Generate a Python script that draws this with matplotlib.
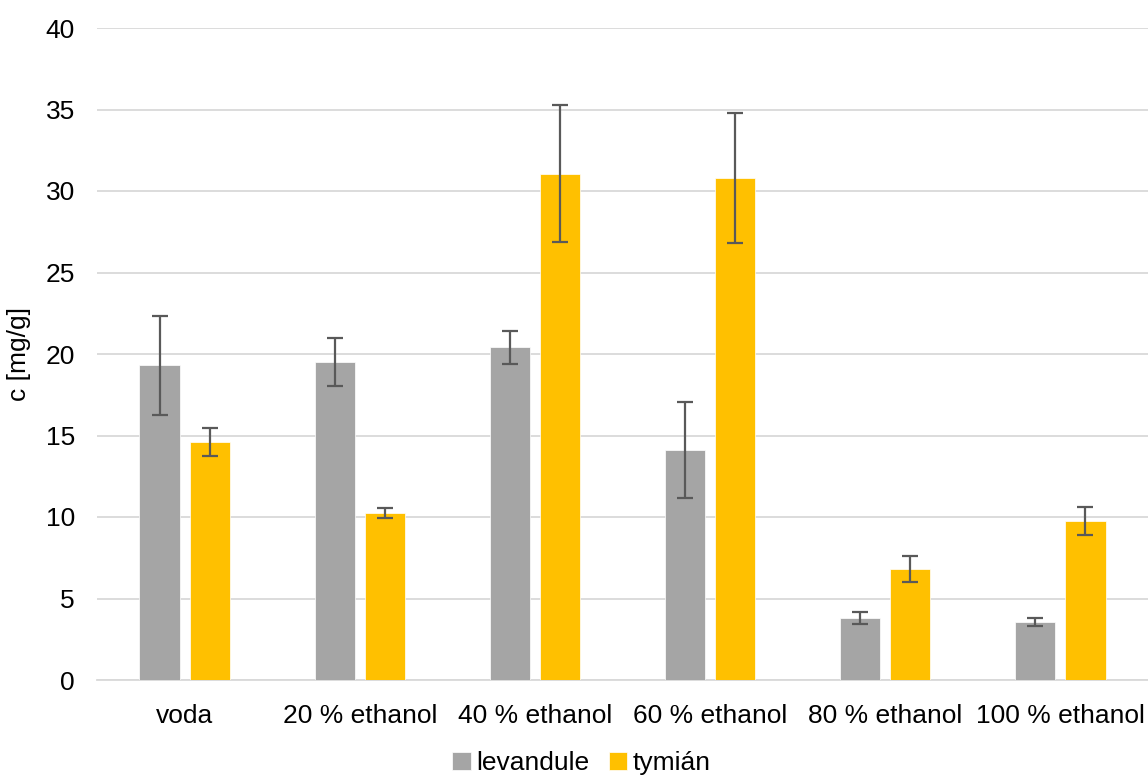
import numpy as np
import matplotlib.pyplot as plt

plt.rcParams['font.family'] = ['Liberation Sans', 'DejaVu Sans']

categories = ['voda', '20 % ethanol', '40 % ethanol', '60 % ethanol', '80 % ethanol', '100 % ethanol']
levandule = [19.3, 19.5, 20.4, 14.1, 3.8, 3.55]
levandule_err = [3.05, 1.47, 1.02, 2.95, 0.37, 0.25]
tymian = [14.6, 10.25, 31.05, 30.8, 6.8, 9.75]
tymian_err = [0.85, 0.3, 4.2, 4.0, 0.8, 0.86]

fig = plt.figure(figsize=(11.48, 7.79), dpi=100)
ax = fig.add_axes([97 / 1148, 1 - 680 / 779, 1 - 97 / 1148, (680 - 28) / 779])

x = np.arange(len(categories))
w = 0.229
off = 0.143
err_kw = dict(ecolor='#595959', elinewidth=1.6, capsize=5.5, capthick=1.6)
ax.bar(x - off, levandule, w, yerr=levandule_err, color='#A5A5A5', edgecolor='white',
       linewidth=0.5, label='levandule', error_kw=err_kw, zorder=3)
ax.bar(x + off, tymian, w, yerr=tymian_err, color='#FFC000', edgecolor='white',
       linewidth=0.5, label='tymián', error_kw=err_kw, zorder=3)

ax.set_xlim(-0.5, len(categories) - 0.5)
ax.set_ylim(0, 40)
ax.set_yticks(range(0, 41, 5))
ax.set_xticks(x)
ax.set_xticklabels(categories)
ax.grid(axis='y', color='#D9D9D9', linewidth=1.3, zorder=0)
ax.set_axisbelow(True)
for s in ['top', 'right', 'left']:
    ax.spines[s].set_visible(False)
ax.spines['bottom'].set_color('#D9D9D9')
ax.spines['bottom'].set_linewidth(1.3)
ax.tick_params(axis='both', length=0, labelsize=19, colors='black')
ax.tick_params(axis='x', pad=17)
ax.tick_params(axis='y', pad=16)
ax.set_ylabel('c [mg/g]', fontsize=19)
ax.yaxis.set_label_coords(-0.063, 0.5)

ax.legend(loc='center', bbox_to_anchor=(0.461, -0.128), ncol=2, frameon=False,
          fontsize=19, handlelength=0.7, handleheight=0.7, handletextpad=0.2,
          columnspacing=0.75, borderaxespad=0, borderpad=0)

fig.savefig('out.png', dpi=100)
